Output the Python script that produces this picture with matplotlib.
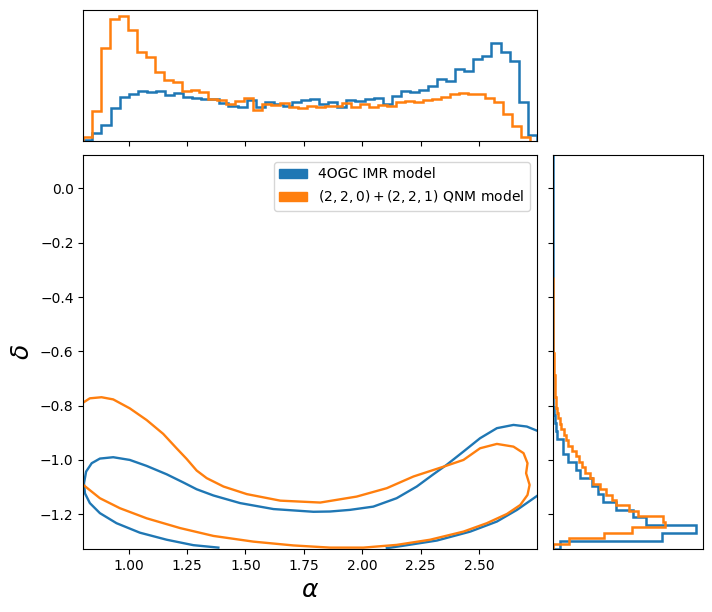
"""
alpha-delta posterior: 2D contours with marginal histograms
"""
import numpy as np
import matplotlib.pyplot as plt
from matplotlib.patches import Patch

BLUE = '#1f77b4'
ORANGE = '#ff7f0e'
LABELS = ['4OGC IMR model', r'$(2,2,0)+(2,2,1)$ QNM model']

# sample ranges (hist bins span these, 50 bins each)
ALPHA_RANGE_IMR = (0.806, 2.747)
ALPHA_RANGE_QNM = (0.806, 2.718)
DELTA_RANGE_IMR = (-1.328, 0.124)
DELTA_RANGE_QNM = (-1.328, -0.326)

# marginal counts on alpha (arbitrary units)
ALPHA_COUNTS_IMR = [3, 23, 48, 98, 131, 140, 150, 147, 150, 138,
                    144, 131, 128, 125, 126, 114, 105, 102, 123, 103,
                    116, 110, 105, 117, 123, 126, 110, 116, 103, 123,
                    120, 126, 129, 110, 135, 150, 147, 153, 165, 185,
                    180, 216, 210, 246, 255, 294, 267, 239, 117, 17]
ALPHA_COUNTS_QNM = [10, 90, 281, 366, 376, 333, 267, 253, 208, 183,
                    177, 150, 153, 147, 126, 123, 110, 120, 128, 92,
                    110, 107, 113, 101, 98, 105, 101, 105, 105, 114,
                    101, 111, 101, 108, 105, 117, 120, 117, 123, 126,
                    132, 141, 144, 141, 141, 129, 117, 80, 45, 10]

# marginal counts on delta, from the bottom bin upwards
DELTA_COUNTS_IMR = [23, 330, 433, 281, 242, 192, 152, 137, 119, 83,
                    71, 46, 32, 32, 15, 12, 7, 5, 2, 1,
                    1, 1, 0.5, 0.5, 0, 0, 0, 0, 0, 0,
                    0, 0, 0, 0, 0, 0, 0, 0, 0, 0,
                    0, 0, 0, 0, 0, 0, 0, 0, 0, 0]
DELTA_COUNTS_QNM = [2, 50, 155, 239, 339, 332, 257, 230, 192, 180,
                    160, 143, 123, 113, 99, 90, 81, 70, 59, 47,
                    40, 34, 27, 22, 17, 14, 12, 10, 8, 8,
                    6, 6, 4, 4, 3, 3, 1, 1, 1, 1,
                    0.5, 0.5, 0.5, 0, 0, 0, 0, 0, 0, 0]

# 90% credible contours (alpha, delta)
IMR_UPPER_ALPHA = [1.384, 1.277, 1.163, 1.048, 0.948, 0.877, 0.834, 0.813,
                   0.809, 0.818, 0.842, 0.877, 0.934, 1.005, 1.077, 1.163,
                   1.234, 1.291, 1.363, 1.477, 1.620, 1.791, 1.862, 1.947,
                   2.047, 2.147, 2.233, 2.304, 2.361, 2.433, 2.504, 2.576,
                   2.647, 2.704, 2.747]
IMR_UPPER_DELTA = [-1.323, -1.314, -1.294, -1.268, -1.233, -1.196, -1.159, -1.123,
                   -1.086, -1.043, -1.012, -0.995, -0.990, -1.000, -1.022, -1.053,
                   -1.083, -1.108, -1.131, -1.159, -1.181, -1.191, -1.190, -1.184,
                   -1.172, -1.141, -1.098, -1.053, -1.018, -0.969, -0.920, -0.883,
                   -0.871, -0.877, -0.892]
IMR_LOWER_ALPHA = [2.747, 2.662, 2.576, 2.462, 2.319, 2.176, 2.105]
IMR_LOWER_DELTA = [-1.133, -1.184, -1.227, -1.264, -1.297, -1.316, -1.325]

QNM_ALPHA = [0.805, 0.834, 0.884, 0.934, 1.005, 1.077, 1.148, 1.205, 1.248,
             1.291, 1.334, 1.406, 1.506, 1.649, 1.820, 1.976, 2.105, 2.219,
             2.347, 2.433, 2.504, 2.576, 2.647, 2.690, 2.707, 2.701, 2.716,
             2.707, 2.676, 2.619, 2.533, 2.433, 2.290, 2.147, 2.005, 1.862,
             1.705, 1.534, 1.363, 1.220, 1.077, 0.963, 0.877, 0.806]
QNM_DELTA = [-0.789, -0.773, -0.769, -0.777, -0.810, -0.853, -0.904, -0.957, -0.996,
             -1.039, -1.067, -1.098, -1.126, -1.150, -1.157, -1.135, -1.104, -1.061,
             -1.025, -1.000, -0.957, -0.941, -0.951, -0.975, -1.012, -1.049, -1.092,
             -1.129, -1.166, -1.199, -1.233, -1.264, -1.294, -1.313, -1.323, -1.323,
             -1.315, -1.301, -1.280, -1.251, -1.215, -1.178, -1.141, -1.092]

N_BINS = 50
HIST_LW = 1.8
CONT_LW = 1.7

fig = plt.figure(figsize=(7.12, 6.12), dpi=100)
ax = fig.add_axes([0.117, 0.103, 0.637, 0.644])
ax_top = fig.add_axes([0.117, 0.770, 0.637, 0.214], sharex=ax)
ax_right = fig.add_axes([0.776, 0.103, 0.212, 0.644], sharey=ax)

# main panel
ax.plot(IMR_UPPER_ALPHA, IMR_UPPER_DELTA, color=BLUE, lw=CONT_LW)
ax.plot(IMR_LOWER_ALPHA, IMR_LOWER_DELTA, color=BLUE, lw=CONT_LW)
ax.plot(QNM_ALPHA, QNM_DELTA, color=ORANGE, lw=CONT_LW)
ax.set_xlabel(r'$\alpha$', fontsize=18)
ax.set_ylabel(r'$\delta$', fontsize=18)
handles = [Patch(color=BLUE, label=LABELS[0]), Patch(color=ORANGE, label=LABELS[1])]
ax.legend(handles=handles, loc='upper right')

# top marginal
edges = np.linspace(*ALPHA_RANGE_IMR, N_BINS + 1)
ax_top.stairs(ALPHA_COUNTS_IMR, edges, color=BLUE, lw=HIST_LW)
edges = np.linspace(*ALPHA_RANGE_QNM, N_BINS + 1)
ax_top.stairs(ALPHA_COUNTS_QNM, edges, color=ORANGE, lw=HIST_LW)
ax_top.set_yticks([])
ax_top.tick_params(labelbottom=False)

# right marginal
edges = np.linspace(*DELTA_RANGE_IMR, N_BINS + 1)
ax_right.stairs(DELTA_COUNTS_IMR, edges, color=BLUE, lw=HIST_LW, orientation='horizontal')
edges = np.linspace(*DELTA_RANGE_QNM, N_BINS + 1)
ax_right.stairs(DELTA_COUNTS_QNM, edges, color=ORANGE, lw=HIST_LW, orientation='horizontal')
ax_right.set_xticks([])
ax_right.tick_params(labelleft=False)

ax.set_xlim(*ALPHA_RANGE_IMR)
ax.set_ylim(*DELTA_RANGE_IMR)

plt.savefig('out.png', dpi=100)
plt.close()
